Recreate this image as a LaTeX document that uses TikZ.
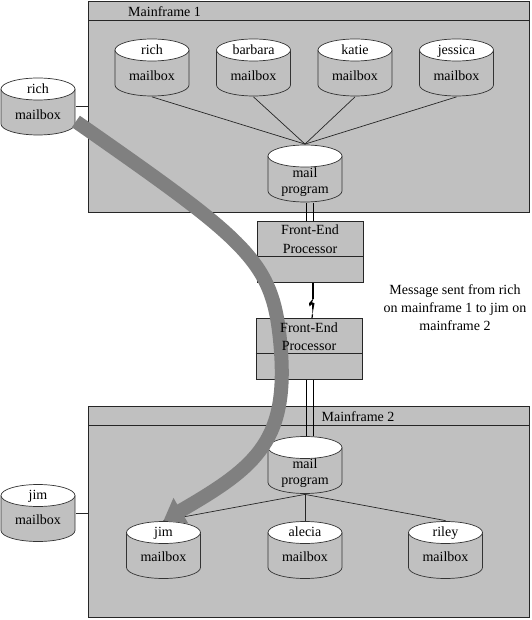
\documentclass[tikz,border=0pt]{standalone}
\usepackage{fontspec}
\setmainfont{Liberation Serif}
\usetikzlibrary{arrows.meta,positioning,calc}
\definecolor{boxgray}{RGB}{192,192,192}
\definecolor{flowgray}{RGB}{128,128,128}

\begin{document}
\begin{tikzpicture}[
    x=1pt, y=-1pt,
    every node/.style={font=\fontsize{14pt}{18pt}\selectfont, inner sep=0pt},
    frame/.style={rectangle, draw=black!85, fill=boxgray, line width=0.8pt, anchor=north west,
        minimum width=441pt, minimum height=211pt},
    store/.style={rectangle, minimum width=75.4pt, minimum height=58.4pt,
        path picture={
            \draw[fill=boxgray, draw=black!80, line width=0.7pt]
                ([xshift=0.7pt,yshift=-11.7pt]path picture bounding box.north west)
                -- ([xshift=0.7pt,yshift=11.7pt]path picture bounding box.south west)
                arc[start angle=180, end angle=360, x radius=37pt, y radius=11pt]
                -- ([xshift=-0.7pt,yshift=-11.7pt]path picture bounding box.north east);
            \draw[fill=white, draw=black!80, line width=0.7pt]
                ([yshift=-11.7pt]path picture bounding box.north) ellipse [x radius=37pt, y radius=11pt];
        }},
    fep/.style={rectangle, draw=black!85, fill=boxgray, line width=0.8pt, minimum width=106pt, minimum height=61pt},
    tag/.style={anchor=base},
    link/.style={draw=black!85, line width=0.7pt},
    pipe/.style={draw=black, line width=1.3pt},
    flow/.style={draw=flowgray, line width=14pt, -{Triangle[length=20pt,width=28pt]}}
]
    \useasboundingbox (0,0) rectangle (531,620);

    % the two mainframes
    \node[frame] (mf1) at (88,1) {};
    \node[frame] (mf2) at (88,406) {};
    \draw[link] ([yshift=-19pt]mf1.north west) -- ([yshift=-19pt]mf1.north east);
    \draw[link] ([yshift=-19pt]mf2.north west) -- ([yshift=-19pt]mf2.north east);
    \node[anchor=west] (mf1name) at ([xshift=40pt,yshift=-11pt]mf1.north west) {Mainframe 1};
    \node (mf2name) at ([xshift=270pt,yshift=-11pt]mf2.north west) {Mainframe 2};

    % mailboxes on mainframe 1
    \node[store] (richmb) at (152,67.5) {};
    \node[store] (barbaramb) at (253.5,67.5) {};
    \node[store] (katiemb) at (355,67.5) {};
    \node[store] (jessicamb) at (456.5,67.5) {};
    \node[store] (prog1) at (305,173.5) {};
    \node[tag] (richname) at ([yshift=-16.5pt]richmb.north) {rich};
    \node[tag] (richbox) at ([yshift=-42.5pt]richmb.north) {mailbox};
    \node[tag] (barbaraname) at ([yshift=-16.5pt]barbaramb.north) {barbara};
    \node[tag] (barbarabox) at ([yshift=-42.5pt]barbaramb.north) {mailbox};
    \node[tag] (katiename) at ([yshift=-16.5pt]katiemb.north) {katie};
    \node[tag] (katiebox) at ([yshift=-42.5pt]katiemb.north) {mailbox};
    \node[tag] (jessicaname) at ([yshift=-16.5pt]jessicamb.north) {jessica};
    \node[tag] (jessicabox) at ([yshift=-42.5pt]jessicamb.north) {mailbox};
    \node[tag] (prog1a) at ([yshift=-33pt]prog1.north) {mail};
    \node[tag] (prog1b) at ([yshift=-49pt]prog1.north) {program};
    \draw[link] (richmb.south) -- (prog1.north);
    \draw[link] (barbaramb.south) -- (prog1.north);
    \draw[link] (katiemb.south) -- (prog1.north);
    \draw[link] (jessicamb.south) -- (prog1.north);

    % rich's mailbox outside
    \node[store] (rich0) at (38,106.5) {};
    \node[tag] (rich0name) at ([yshift=-16pt]rich0.north) {rich};
    \node[tag] (rich0box) at ([yshift=-42pt]rich0.north) {mailbox};
    \draw[link] (rich0.east) -- (rich0.east -| mf1.west);

    % front-end processors
    \node[fep, anchor=north] (fep1) at (310,221) {};
    \node[fep, anchor=north] (fep2) at (309,318) {};
    \draw[link] ([yshift=-35pt]fep1.north west) -- ([yshift=-35pt]fep1.north east);
    \draw[link] ([yshift=-35pt]fep2.north west) -- ([yshift=-35pt]fep2.north east);
    \draw[pipe] ([xshift=-3.5pt]fep1.north) -- ([xshift=-3.5pt]fep1.north |- prog1.south);
    \draw[pipe] ([xshift=3.5pt]fep1.north) -- ([xshift=3.5pt]fep1.north |- prog1.south);

    % link between the processors
    \draw[line width=1.2pt] ([xshift=3pt]fep1.south) -- ++(0,16) coordinate (zap);
    \fill (zap) -- ++(-4,4.5) -- ++(0.5,3) -- ++(2.5,-2) -- ++(0.5,10) coordinate (zapend)
        -- ++(2,-11) -- ++(-2.5,-1) -- ++(1.5,-3.5) -- cycle;
    \draw[line width=1.2pt] (zapend) -- ([xshift=3pt]fep2.north);

    % mailboxes on mainframe 2
    \node[store] (prog2) at (305,465) {};
    \node[store] (jimmb) at (163.5,550) {};
    \node[store] (aleciamb) at (305,550) {};
    \node[store] (rileymb) at (445.5,550) {};
    \node[tag] (prog2a) at ([yshift=-33pt]prog2.north) {mail};
    \node[tag] (prog2b) at ([yshift=-49pt]prog2.north) {program};
    \node[tag] (jimname) at ([yshift=-16pt]jimmb.north) {jim};
    \node[tag] (jimbox) at ([yshift=-41pt]jimmb.north) {mailbox};
    \node[tag] (alecianame) at ([yshift=-16pt]aleciamb.north) {alecia};
    \node[tag] (aleciabox) at ([yshift=-41pt]aleciamb.north) {mailbox};
    \node[tag] (rileyname) at ([yshift=-16pt]rileymb.north) {riley};
    \node[tag] (rileybox) at ([yshift=-41pt]rileymb.north) {mailbox};
    \draw[link] (prog2.south) -- (jimmb.north);
    \draw[link] (prog2.south) -- (aleciamb.north);
    \draw[link] (prog2.south) -- (rileymb.north);
    \draw[pipe] ([xshift=-2.5pt]fep2.south) -- ([xshift=-2.5pt]fep2.south |- prog2.north);
    \draw[pipe] ([xshift=4.5pt]fep2.south) -- ([xshift=4.5pt]fep2.south |- prog2.north);

    % jim's mailbox outside
    \node[store] (jim0) at (38,513) {};
    \node[tag] (jim0name) at ([yshift=-16pt]jim0.north) {jim};
    \node[tag] (jim0box) at ([yshift=-41pt]jim0.north) {mailbox};
    \draw[link] (jim0.east) -- (jim0.east -| mf2.west);

    % the message path
    \draw[flow] ([yshift=-15pt]rich0.east) .. controls (247,241) and (272,260) .. (280,340)
        .. controls (290,440) and (258,466) .. (jimmb.north);

    \node[tag] (fep1a) at ([yshift=-13.5pt]fep1.north) {Front-End};
    \node[tag] (fep1b) at ([yshift=-32pt]fep1.north) {Processor};
    \node[tag] (fep2a) at ([yshift=-14pt]fep2.north) {Front-End};
    \node[tag] (fep2b) at ([yshift=-32.5pt]fep2.north) {Processor};

    \node[align=center] (note) at (455,308) {Message sent from rich\\on mainframe 1 to jim on\\mainframe 2};
\end{tikzpicture}
\end{document}
